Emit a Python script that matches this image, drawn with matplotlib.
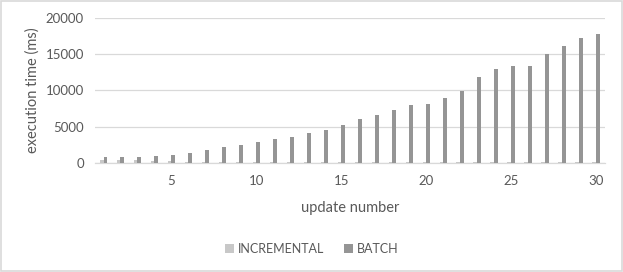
import matplotlib
matplotlib.use("Agg")
import matplotlib.pyplot as plt
import numpy as np

updates = list(range(1, 31))
incremental = [460, 380, 350, 320, 240, 170, 150, 140, 140, 140, 140, 140, 140, 140, 140,
               140, 140, 140, 140, 140, 140, 140, 140, 140, 140, 140, 140, 140, 140, 150]
batch = [790, 800, 750, 950, 1150, 1430, 1840, 2200, 2530, 2850, 3260, 3630, 4180, 4500, 5200,
         6110, 6570, 7260, 7950, 8180, 8920, 9890, 11860, 12920, 13330, 13330, 15030, 16180, 17190, 17790]
y_ticks = [0, 5000, 10000, 15000, 20000]
x_ticks = [5, 10, 15, 20, 25, 30]

txt = "#595959"
plt.rcParams['font.family'] = ['Lato', 'DejaVu Sans']

fig = plt.figure(figsize=(6.23, 2.72), dpi=100)
ax = fig.add_axes([0.1525, 0.401, 0.818, 0.533])

x = np.array(updates)
w = 0.22
ax.bar(x - w / 2, incremental, width=w, color="#C8C8C8", label="INCREMENTAL", zorder=3)
ax.bar(x + w / 2, batch, width=w, color="#959595", label="BATCH", zorder=3)

ax.set_xlim(0.5, 30.5)
ax.set_ylim(0, 20000)
ax.set_yticks(y_ticks)
ax.set_xticks(x_ticks)
ax.tick_params(axis="both", length=0, colors=txt, labelsize=9.5)
ax.tick_params(axis="x", pad=8.5)
ax.tick_params(axis="y", pad=8)
ax.grid(axis="y", color="#D9D9D9", linewidth=0.9, zorder=0)
for s in ["top", "right", "left"]:
    ax.spines[s].set_visible(False)
ax.spines["bottom"].set_color("#D9D9D9")
ax.spines["bottom"].set_linewidth(0.9)

ax.set_ylabel("execution time (ms)", color=txt, fontsize=10.5)
ax.yaxis.set_label_coords(-0.108, 0.5)
ax.set_xlabel("update number", color=txt, fontsize=10.5, labelpad=10)

leg = fig.legend(loc="center", bbox_to_anchor=(0.5, 0.085), ncol=2, frameon=False,
                 fontsize=9, handlelength=0.7, handleheight=0.7, handletextpad=0.3,
                 columnspacing=1.6)
for t in leg.get_texts():
    t.set_color(txt)

border = plt.Rectangle((0.001, 0.002), 0.997, 0.995, transform=fig.transFigure,
                       fill=False, edgecolor="#D9D9D9", linewidth=1.2)
fig.patches.append(border)

fig.savefig("out.png", dpi=100)
